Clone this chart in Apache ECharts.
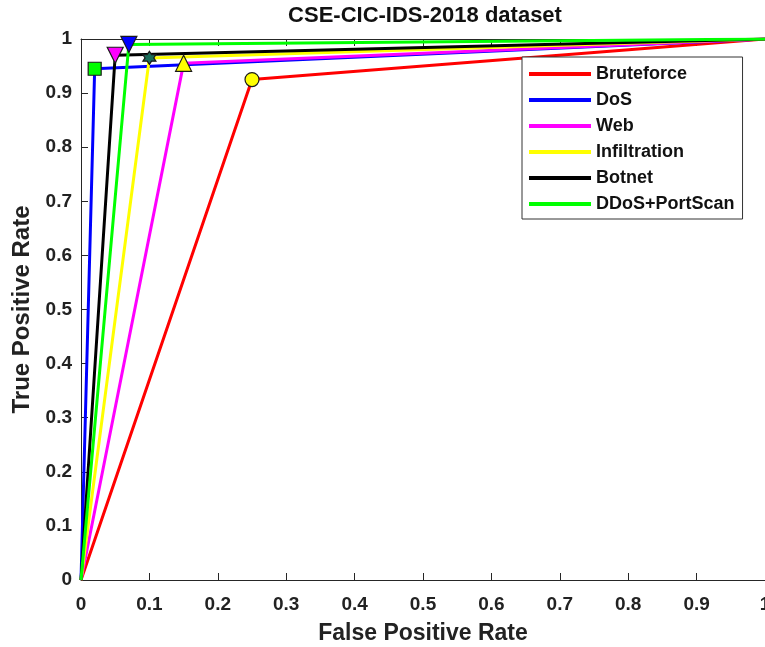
<!DOCTYPE html>
<html>
<head>
<meta charset="utf-8">
<style>
  html, body { margin: 0; padding: 0; background: #fff; }
  #chart { width: 765px; height: 647px; }
</style>
<script src="https://cdn.jsdelivr.net/npm/echarts@6/dist/echarts.min.js"></script>
</head>
<body>
<div id="chart"></div>
<script>
// ROC operating points, one per attack class
const classNames = ['Bruteforce', 'DoS', 'Web', 'Infiltration', 'Botnet', 'DDoS+PortScan']
const fprValues = [0.25, 0.02, 0.15, 0.10, 0.05, 0.07]
const tprValues = [0.925, 0.945, 0.955, 0.965, 0.97, 0.99]
const xTicks = [0, 0.1, 0.2, 0.3, 0.4, 0.5, 0.6, 0.7, 0.8, 0.9, 1]

const lineColors = ['#ff0000', '#0000ff', '#ff00ff', '#ffff00', '#000000', '#00ff00']
const hexagram = 'path://M0,-10L2.9,-5L8.66,-5L5.8,0L8.66,5L2.9,5L0,10L-2.9,5L-8.66,5L-5.8,0L-8.66,-5L-2.9,-5Z'
const triDown = 'path://M-10,-8L10,-8L0,9Z'
const markerShapes = ['circle', 'rect', 'triangle', hexagram, triDown, triDown]
const markerFills = ['#ffff00', '#00ff00', '#ffff00', '#1a6e5a', '#ff00ff', '#0000ff']
const markerSizes = [14, 13, 16, 13, 16, 16]

const textFont = "'Liberation Sans', Arial, sans-serif"

const chart = echarts.init(document.getElementById('chart'), null, { renderer: 'canvas' })

const series = classNames.map((name, i) => ({
  name: name,
  type: 'line',
  symbol: 'none',
  showSymbol: true,
  color: lineColors[i],
  lineStyle: { width: 3, color: lineColors[i] },
  animation: false,
  data: [
    { value: [0, 0], symbol: 'none' },
    {
      value: [fprValues[i], tprValues[i]],
      symbol: markerShapes[i],
      symbolSize: markerSizes[i],
      itemStyle: { color: markerFills[i], borderColor: '#1a1a1a', borderWidth: 1.2 }
    },
    { value: [1, 1], symbol: 'none' }
  ]
}))

const axisCommon = {
  axisLine: { show: true, lineStyle: { color: '#262626', width: 1 } },
  axisTick: { show: true, inside: true, length: 7, lineStyle: { color: '#262626' } },
  splitLine: { show: false }
}

const option = {
  backgroundColor: '#fff',
  animation: false,
  title: {
    text: 'CSE-CIC-IDS-2018 dataset',
    left: 420,
    top: 0,
    textAlign: 'center',
    textStyle: { fontFamily: textFont, fontWeight: 'bold', fontSize: 22, color: '#111' }
  },
  grid: { left: 81, right: 0, top: 39, bottom: 67, containLabel: false, outerBoundsMode: 'none' },
  legend: {
    orient: 'vertical',
    left: 522,
    top: 57,
    icon: 'rect',
    itemWidth: 62,
    itemHeight: 4,
    itemGap: 8,
    padding: [8, 8, 6, 7],
    borderColor: '#333',
    borderWidth: 1,
    backgroundColor: '#fff',
    itemStyle: { borderWidth: 0 },
    textStyle: { fontFamily: textFont, fontWeight: 'bold', fontSize: 18, color: '#111', lineHeight: 18 },
    data: classNames
  },
  xAxis: [
    Object.assign({}, axisCommon, {
      type: 'value',
      min: 0,
      max: 1,
      interval: 0.1,
      name: 'False Positive Rate',
      nameLocation: 'middle',
      nameGap: 42,
      nameTextStyle: { fontFamily: textFont, fontWeight: 'bold', fontSize: 23, color: '#222' },
      axisLabel: {
        margin: 15,
        fontFamily: textFont, fontWeight: 'bold', fontSize: 19, color: '#222',
        formatter: v => xTicks.includes(Math.round(v * 10) / 10) ? String(Math.round(v * 10) / 10) : ''
      }
    }),
    Object.assign({}, axisCommon, {
      type: 'value',
      position: 'top',
      min: 0,
      max: 1,
      interval: 0.1,
      axisLabel: { show: false }
    })
  ],
  yAxis: [
    Object.assign({}, axisCommon, {
      type: 'value',
      min: 0,
      max: 1,
      interval: 0.1,
      name: 'True Positive Rate',
      nameLocation: 'middle',
      nameGap: 47,
      nameTextStyle: { fontFamily: textFont, fontWeight: 'bold', fontSize: 24, color: '#222' },
      axisLabel: {
        margin: 9,
        fontFamily: textFont, fontWeight: 'bold', fontSize: 19, color: '#222',
        formatter: v => String(Math.round(v * 10) / 10)
      }
    })
  ],
  series: series
}

chart.setOption(option)
</script>
</body>
</html>
